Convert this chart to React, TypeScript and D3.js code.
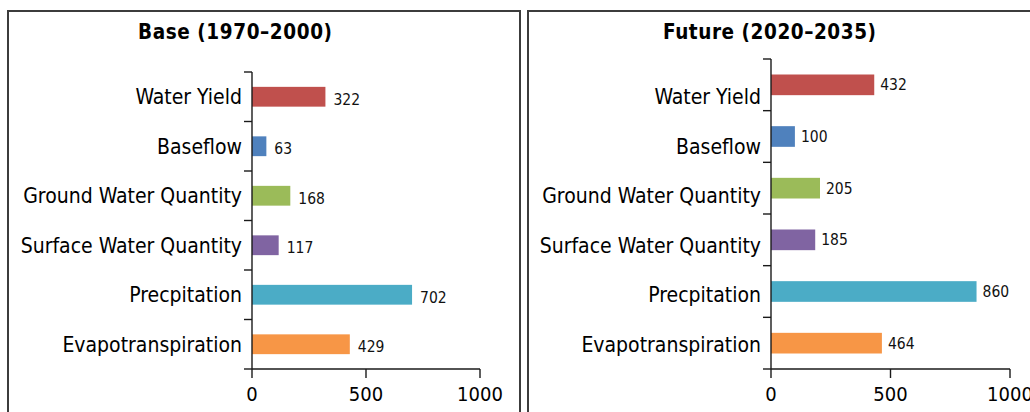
import React from "react";
import * as d3 from "d3";

const categories = [
  "Water Yield",
  "Baseflow",
  "Ground Water Quantity",
  "Surface Water Quantity",
  "Precpitation",
  "Evapotranspiration",
];
const baseValues = [322, 63, 168, 117, 702, 429];
const futureValues = [432, 100, 205, 185, 860, 464];
const barColors = ["#C0504D", "#4F81BD", "#9BBB59", "#8064A2", "#4BACC6", "#F79646"];
const xTicks = [0, 500, 1000];
const panelTitles = ["Base (1970–2000)", "Future (2020–2035)"];

const FONT = "'DejaVu Sans Condensed', 'DejaVu Sans', sans-serif";

type PanelCfg = {
  title: string;
  values: number[];
  titleX: number;
  titleLen: number;
  xRange: [number, number];
  barRange: [number, number];
  labelRange: [number, number];
  valueOffset: number;
  valueDy: number;
};

const panels: PanelCfg[] = [
  {
    title: panelTitles[0],
    values: baseValues,
    titleX: 235,
    titleLen: 194,
    xRange: [252, 480],
    barRange: [72, 369],
    labelRange: [72, 369],
    valueOffset: 8,
    valueDy: 2.5,
  },
  {
    title: panelTitles[1],
    values: futureValues,
    titleX: 769.5,
    titleLen: 213,
    xRange: [771, 1010],
    barRange: [59, 369],
    labelRange: [72, 369],
    valueOffset: 6,
    valueDy: 0,
  },
];

function Panel({ cfg }: { cfg: PanelCfg }) {
  const x = d3.scaleLinear().domain([0, 1000]).range(cfg.xRange);
  const y = d3.scaleBand<string>().domain(categories).range(cfg.barRange).paddingInner(0.6).paddingOuter(0.3);
  const yl = d3.scaleBand<string>().domain(categories).range(cfg.labelRange);
  const step = y.step();
  const boundaries = d3.range(categories.length + 1).map((i) => cfg.barRange[0] + i * step);
  const x0 = x(0);
  const yBottom = cfg.barRange[1];
  const axisColor = "#1a1a1a";
  return (
    <g>
      <text
        x={cfg.titleX}
        y={39}
        textAnchor="middle"
        fontFamily={FONT}
        fontWeight="bold"
        fontSize={20.5}
        textLength={cfg.titleLen}
        lengthAdjust="spacing"
        fill="#000"
      >
        {cfg.title}
      </text>
      {categories.map((c, i) => (
        <rect
          key={c}
          x={x0}
          y={y(c)!}
          width={x(cfg.values[i]) - x0}
          height={y.bandwidth()}
          fill={barColors[i]}
        />
      ))}
      {categories.map((c, i) => (
        <text
          key={c + "v"}
          x={x(cfg.values[i]) + cfg.valueOffset}
          y={y(c)! + y.bandwidth() / 2 + cfg.valueDy}
          dy="0.35em"
          fontFamily={FONT}
          fontSize={15.5}
          fill="#111"
        >
          {cfg.values[i]}
        </text>
      ))}
      {categories.map((c) => (
        <text
          key={c + "l"}
          x={x0 - 10}
          y={yl(c)! + yl.bandwidth() / 2}
          dy="0.35em"
          textAnchor="end"
          fontFamily={FONT}
          fontSize={21}
          fill="#000"
        >
          {c}
        </text>
      ))}
      <line x1={x0} x2={x0} y1={cfg.barRange[0]} y2={yBottom} stroke={axisColor} strokeWidth={1.4} />
      {boundaries.map((b, i) => (
        <line key={"yt" + i} x1={x0 - 8} x2={x0} y1={b} y2={b} stroke={axisColor} strokeWidth={1.4} />
      ))}
      <line x1={x0} x2={x(1000)} y1={yBottom} y2={yBottom} stroke={axisColor} strokeWidth={1.4} />
      {xTicks.map((t) => (
        <g key={"xt" + t}>
          <line x1={x(t)} x2={x(t)} y1={yBottom} y2={yBottom + 9} stroke={axisColor} strokeWidth={1.4} />
          <text x={x(t)} y={401} textAnchor="middle" fontFamily={FONT} fontSize={20} fill="#000">
            {t}
          </text>
        </g>
      ))}
    </g>
  );
}

export default function App() {
  return (
    <svg width={1030} height={412} style={{ position: "absolute", left: 0, top: 0, background: "#fff" }}>
      <rect x={0} y={0} width={1030} height={412} fill="#fff" />
      <path d="M8,412 V11 H520 V412" fill="none" stroke="#3c3c3c" strokeWidth={2} />
      <path d="M528,412 V11 H1031" fill="none" stroke="#3c3c3c" strokeWidth={2} />
      {panels.map((p, i) => (
        <Panel key={i} cfg={p} />
      ))}
    </svg>
  );
}
